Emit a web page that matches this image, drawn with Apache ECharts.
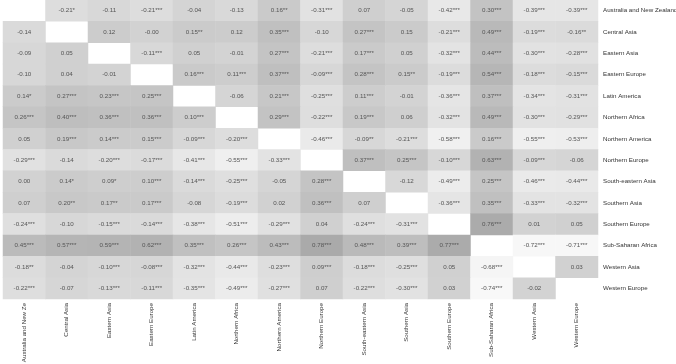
<!DOCTYPE html>
<html>
<head>
<meta charset="utf-8">
<script src="https://cdn.jsdelivr.net/npm/echarts@6/dist/echarts.min.js"></script>
<style>
  html, body { margin: 0; padding: 0; background: #fff; }
  #chart { width: 676px; height: 364px; }
</style>
</head>
<body>
<div id="chart"></div>
<script>
var regions = ['Australia and New Zealand', 'Central Asia', 'Eastern Asia', 'Eastern Europe',
  'Latin America', 'Northern Africa', 'Northern America', 'Northern Europe', 'South-eastern Asia',
  'Southern Asia', 'Southern Europe', 'Sub-Saharan Africa', 'Western Asia', 'Western Europe']

// correlation values, row by row (null = diagonal)
var values = [
  [null, -0.21, -0.11, -0.21, -0.04, -0.13, 0.16, -0.31, 0.07, -0.05, -0.42, 0.30, -0.39, -0.39],
  [-0.14, null, 0.12, -0.00, 0.15, 0.12, 0.35, -0.10, 0.27, 0.15, -0.21, 0.49, -0.19, -0.16],
  [-0.09, 0.05, null, -0.11, 0.05, -0.01, 0.27, -0.21, 0.17, 0.05, -0.32, 0.44, -0.30, -0.28],
  [-0.10, 0.04, -0.01, null, 0.16, 0.11, 0.37, -0.09, 0.28, 0.15, -0.19, 0.54, -0.18, -0.15],
  [0.14, 0.27, 0.23, 0.25, null, -0.06, 0.21, -0.25, 0.11, -0.01, -0.36, 0.37, -0.34, -0.31],
  [0.26, 0.40, 0.36, 0.36, 0.10, null, 0.29, -0.22, 0.19, 0.06, -0.32, 0.49, -0.30, -0.29],
  [0.05, 0.19, 0.14, 0.15, -0.09, -0.20, null, -0.46, -0.09, -0.21, -0.58, 0.16, -0.55, -0.53],
  [-0.29, -0.14, -0.20, -0.17, -0.41, -0.55, -0.33, null, 0.37, 0.25, -0.10, 0.63, -0.09, -0.06],
  [0.00, 0.14, 0.09, 0.10, -0.14, -0.25, -0.05, 0.28, null, -0.12, -0.49, 0.25, -0.46, -0.44],
  [0.07, 0.20, 0.17, 0.17, -0.08, -0.19, 0.02, 0.36, 0.07, null, -0.36, 0.35, -0.33, -0.32],
  [-0.24, -0.10, -0.15, -0.14, -0.38, -0.51, -0.29, 0.04, -0.24, -0.31, null, 0.76, 0.01, 0.05],
  [0.45, 0.57, 0.59, 0.62, 0.35, 0.26, 0.43, 0.78, 0.48, 0.39, 0.77, null, -0.72, -0.71],
  [-0.18, -0.04, -0.10, -0.08, -0.32, -0.44, -0.23, 0.09, -0.18, -0.25, 0.05, -0.68, null, 0.03],
  [-0.22, -0.07, -0.13, -0.11, -0.35, -0.49, -0.27, 0.07, -0.22, -0.30, 0.03, -0.74, -0.02, null]
]

// significance stars, same layout
var stars = [
  ['', '*', '', '***', '', '', '**', '***', '', '', '***', '***', '***', '***'],
  ['', '', '', '', '**', '', '***', '', '***', '', '***', '***', '***', '**'],
  ['', '', '', '***', '', '', '***', '***', '***', '', '***', '***', '***', '***'],
  ['', '', '', '', '***', '***', '***', '***', '***', '**', '***', '***', '***', '***'],
  ['*', '***', '***', '***', '', '', '***', '***', '***', '', '***', '***', '***', '***'],
  ['***', '***', '***', '***', '***', '', '***', '***', '***', '', '***', '***', '***', '***'],
  ['', '***', '***', '***', '***', '***', '', '***', '**', '***', '***', '***', '***', '***'],
  ['***', '', '***', '***', '***', '***', '***', '', '***', '***', '***', '***', '***', ''],
  ['', '*', '*', '***', '***', '***', '', '***', '', '', '***', '***', '***', '***'],
  ['', '**', '**', '***', '', '***', '', '***', '', '', '***', '***', '***', '***'],
  ['***', '', '***', '***', '***', '***', '***', '', '***', '***', '', '***', '', ''],
  ['***', '***', '***', '***', '***', '***', '***', '***', '***', '***', '***', '', '***', '***'],
  ['**', '', '***', '***', '***', '***', '***', '***', '***', '***', '', '***', '', ''],
  ['***', '', '***', '***', '***', '***', '***', '', '***', '***', '', '***', '', '']
]

var cells = []
values.forEach(function (row, i) {
  row.forEach(function (v, j) {
    if (v === null) return
    cells.push({ value: [j, i, v], sig: stars[i][j] })
  })
})

function fmt(v) {
  var s = Math.abs(v).toFixed(2)
  return (v < 0 || Object.is(v, -0)) ? '-' + s : s
}

var font = 'Liberation Sans, Arial, sans-serif'

var chart = echarts.init(document.getElementById('chart'))
chart.setOption({
  backgroundColor: '#fff',
  animation: false,
  grid: { left: 3, right: 78, top: 0, bottom: 65, outerBoundsMode: 'none', containLabel: false },
  xAxis: {
    type: 'category',
    data: regions,
    axisLine: { show: false },
    axisTick: { show: false },
    splitLine: { show: false },
    axisLabel: {
      rotate: 90,
      interval: 0,
      fontSize: 6.2,
      color: '#333',
      margin: 4,
      width: 61,
      overflow: 'truncate',
      ellipsis: '',
      fontFamily: font
    }
  },
  yAxis: {
    type: 'category',
    data: regions,
    inverse: true,
    position: 'right',
    axisLine: { show: false },
    axisTick: { show: false },
    splitLine: { show: false },
    axisLabel: {
      interval: 0,
      fontSize: 6.2,
      color: '#333',
      margin: 5,
      fontFamily: font
    }
  },
  visualMap: {
    show: false,
    min: -0.75,
    max: 0.8,
    dimension: 2,
    inRange: { color: ['#f9f9f9', '#a9a9a9'] }
  },
  series: [{
    type: 'heatmap',
    data: cells,
    itemStyle: { borderWidth: 0 },
    label: {
      show: true,
      fontSize: 6.2,
      color: '#555',
      fontFamily: font,
      formatter: function (p) {
        return fmt(p.data.value[2]) + p.data.sig
      }
    }
  }]
})
</script>
</body>
</html>
